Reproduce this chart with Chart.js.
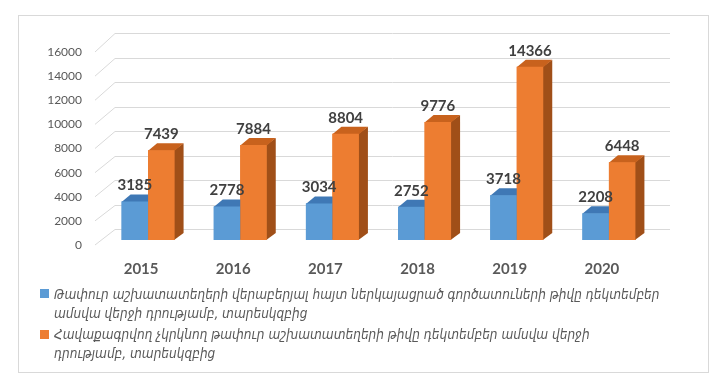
<!DOCTYPE html>
<html><head><meta charset="utf-8">
<script src="https://cdn.jsdelivr.net/npm/chart.js@4"></script>
<style>
html,body{margin:0;padding:0;background:#fff;}
#wrap{position:relative;width:727px;height:381px;overflow:hidden;}
canvas{position:absolute;left:0;top:0;}
#legend{position:absolute;left:0;top:0;width:727px;height:381px;font-family:"DejaVu Sans Condensed","DejaVu Sans",sans-serif;font-style:italic;font-size:13.5px;color:#595959;pointer-events:none;}
.sw{position:absolute;width:9px;height:9px;}
.ln{position:absolute;left:54px;white-space:nowrap;line-height:20px;height:20px;}
</style></head>
<body>
<div id="wrap">
<canvas id="c" width="727" height="381"></canvas>
<div id="legend"></div>
</div>
<script>
const categories = ['2015','2016','2017','2018','2019','2020'];
const employers = [3185, 2778, 3034, 2752, 3718, 2208];
const vacancies = [7439, 7884, 8804, 9776, 14366, 6448];
const seriesNames = [
  'Թափուր աշխատատեղերի վերաբերյալ հայտ ներկայացրած գործատուների թիվը դեկտեմբեր ամսվա վերջի դրությամբ, տարեսկզբից',
  'Հավաքագրվող չկրկնող թափուր աշխատատեղերի թիվը դեկտեմբեր ամսվա վերջի դրությամբ, տարեսկզբից'
];
const legendLines = [
  ['Թափուր աշխատատեղերի վերաբերյալ հայտ ներկայացրած գործատուների թիվը դեկտեմբեր', 'ամսվա վերջի դրությամբ, տարեսկզբից'],
  ['Հավաքագրվող չկրկնող թափուր աշխատատեղերի թիվը դեկտեմբեր ամսվա վերջի', 'դրությամբ, տարեսկզբից']
];
const yMin = 0, yMax = 16000, yStep = 2000;

const frontColors = ['#5b9bd5', '#ed7d31'];
const topColors = ['#3f78b5', '#c8621d'];
const sideColors = ['#3a6ea5', '#a04f18'];
const DX = 9, DY = -7;

const borderPlugin = {
  id: 'border',
  beforeDraw(chart) {
    const ctx = chart.ctx;
    ctx.save();
    ctx.strokeStyle = '#d9d9d9';
    ctx.lineWidth = 1;
    ctx.strokeRect(18.5, 15.5, 690, 357);
    ctx.restore();
  }
};

const wallPlugin = {
  id: 'wall',
  beforeDatasetsDraw(chart) {
    const ctx = chart.ctx, ys = chart.scales.y, a = chart.chartArea;
    ctx.save();
    ctx.strokeStyle = '#d9d9d9';
    ctx.lineWidth = 1;
    for (let v = yMin; v <= yMax; v += yStep) {
      const py = ys.getPixelForValue(v);
      const by = Math.round(py - 11 - 3 * v / yMax) + 0.5;
      ctx.beginPath();
      ctx.moveTo(a.left - 7, py + 5);
      ctx.lineTo(a.left + 13, by);
      ctx.lineTo(a.right + 15, by);
      ctx.stroke();
    }
    ctx.restore();
  }
};

const bar3dPlugin = {
  id: 'bar3d',
  afterDatasetsDraw(chart) {
    const ctx = chart.ctx;
    const metas = [chart.getDatasetMeta(0), chart.getDatasetMeta(1)];
    ctx.save();
    for (let i = 0; i < categories.length; i++) {
      metas.forEach((meta, d) => {
        const el = meta.data[i];
        const p = el.getProps(['x', 'y', 'base', 'width'], true);
        const l = p.x - p.width / 2, r = p.x + p.width / 2;
        ctx.fillStyle = sideColors[d];
        ctx.beginPath();
        ctx.moveTo(r - 0.5, p.y); ctx.lineTo(r + DX, p.y + DY); ctx.lineTo(r + DX, p.base + DY); ctx.lineTo(r - 0.5, p.base);
        ctx.closePath(); ctx.fill();
        ctx.fillStyle = topColors[d];
        ctx.beginPath();
        ctx.moveTo(l, p.y + 0.5); ctx.lineTo(l + DX, p.y + DY); ctx.lineTo(r + DX, p.y + DY); ctx.lineTo(r, p.y + 0.5);
        ctx.closePath(); ctx.fill();
        el.draw(ctx);
      });
    }
    // data labels
    ctx.font = 'bold 15px Lato, "Liberation Sans", sans-serif';
    ctx.fillStyle = '#404040';
    ctx.textAlign = 'center';
    ctx.textBaseline = 'middle';
    metas.forEach((meta, d) => {
      const vals = chart.data.datasets[d].data;
      meta.data.forEach((el, i) => {
        const p = el.getProps(['x', 'y'], true);
        ctx.fillText(String(vals[i]), p.x, p.y - 16);
      });
    });
    ctx.restore();
  }
};

new Chart(document.getElementById('c'), {
  type: 'bar',
  data: {
    labels: categories,
    datasets: [
      { label: seriesNames[0], data: employers, backgroundColor: frontColors[0], borderWidth: 0 },
      { label: seriesNames[1], data: vacancies, backgroundColor: frontColors[1], borderWidth: 0 }
    ]
  },
  options: {
    responsive: false,
    animation: false,
    events: [],
    layout: { padding: { left: 22, right: 72, top: 47, bottom: 101 } },
    datasets: { bar: { categoryPercentage: 0.575, barPercentage: 1.0 } },
    plugins: { legend: { display: false }, tooltip: { enabled: false } },
    scales: {
      x: {
        grid: { display: false, drawTicks: false },
        border: { display: false },
        ticks: { color: '#595959', font: { family: 'Lato, "Liberation Sans", sans-serif', size: 15, weight: 'bold' }, padding: 20, labelOffset: -7, maxRotation: 0 },
        afterFit(s) { s.height = 40; }
      },
      y: {
        min: yMin, max: yMax,
        grid: { display: false, drawTicks: false },
        border: { display: false },
        ticks: { stepSize: yStep, color: '#595959', font: { family: 'Lato, "Liberation Sans", sans-serif', size: 12 }, padding: 20, labelOffset: 5, callback: v => String(v) },
        afterFit(s) { s.width = 80; }
      }
    }
  },
  plugins: [borderPlugin, wallPlugin, bar3dPlugin]
});

// HTML legend
const lg = document.getElementById('legend');
const centers = [[294, 313], [334, 353]];
const swTops = [289, 330];
legendLines.forEach((lines, d) => {
  const sw = document.createElement('div');
  sw.className = 'sw';
  sw.style.left = '40px';
  sw.style.top = swTops[d] + 'px';
  sw.style.background = frontColors[d];
  lg.appendChild(sw);
  lines.forEach((t, k) => {
    const ln = document.createElement('div');
    ln.className = 'ln';
    ln.style.top = (centers[d][k] - 10) + 'px';
    ln.textContent = t;
    lg.appendChild(ln);
  });
});
</script>
</body></html>
